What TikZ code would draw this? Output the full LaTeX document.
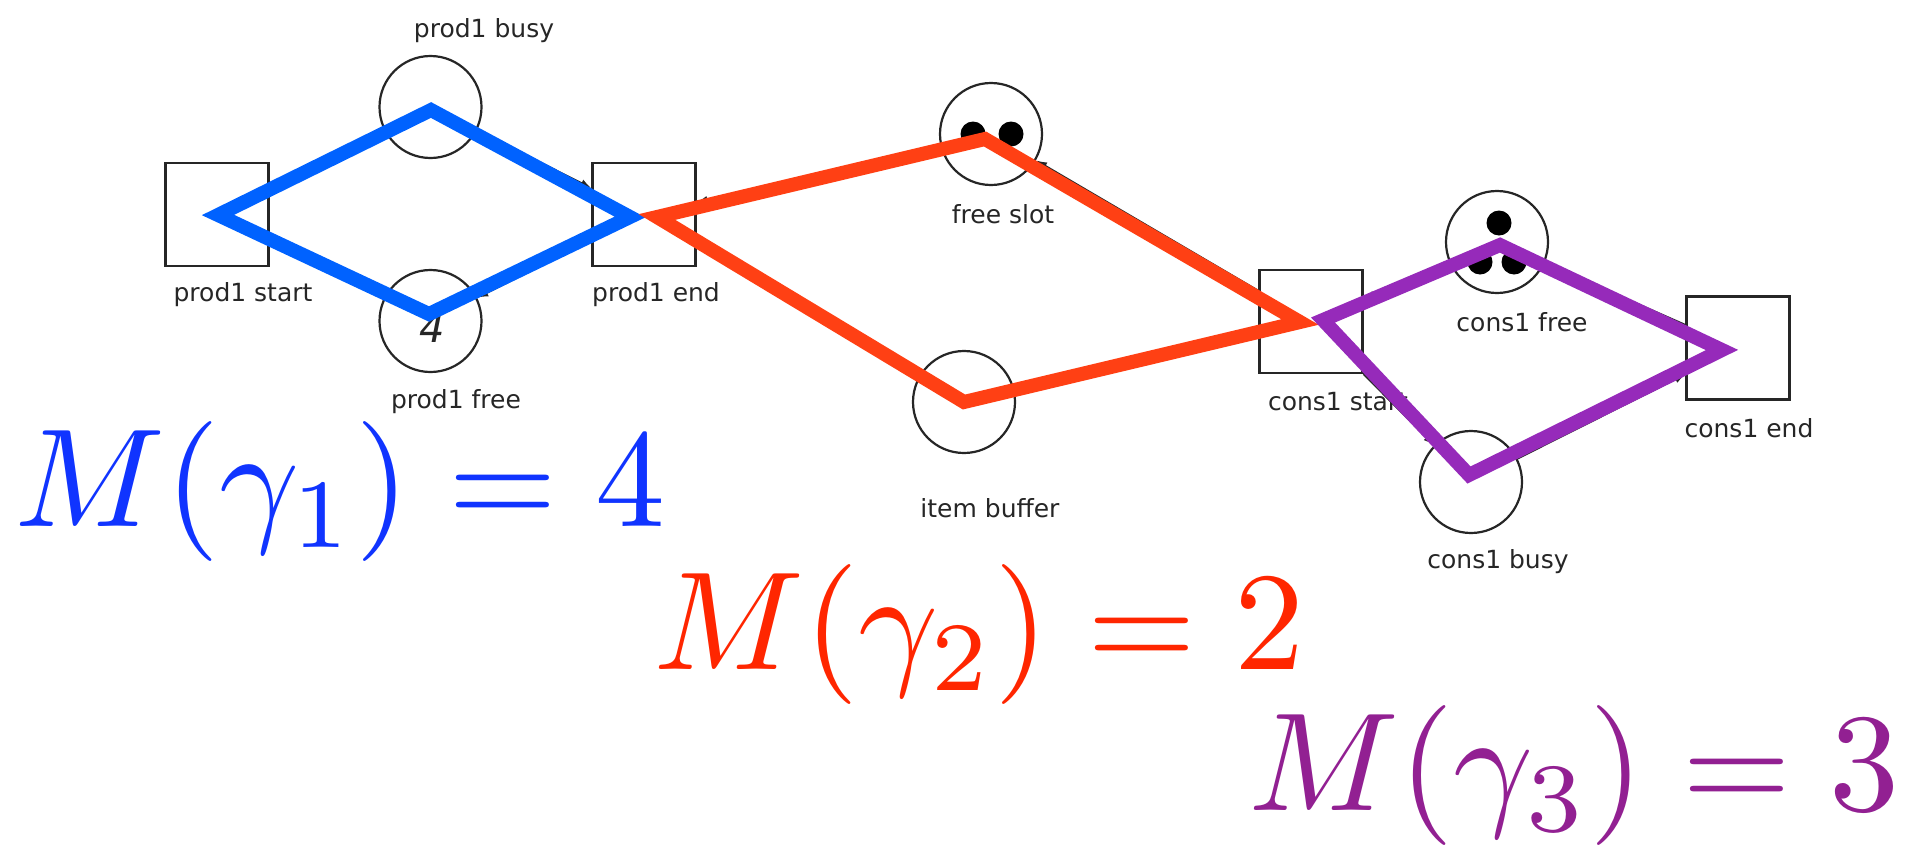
\documentclass[tikz,border=0pt]{standalone}
\usepackage{graphicx}
\usepackage{fontspec}
\newfontfamily\labfont{DejaVu Sans}
\usetikzlibrary{arrows.meta}
\definecolor{bluepoly}{RGB}{0,98,255}
\definecolor{redpoly}{RGB}{255,64,20}
\definecolor{purppoly}{RGB}{150,42,186}
\definecolor{bluetext}{RGB}{16,52,255}
\definecolor{redtext}{RGB}{255,38,0}
\definecolor{purptext}{RGB}{146,32,146}
\newcommand{\bigmath}[1]{\scalebox{14.0}{$#1$}}
\begin{document}
\begin{tikzpicture}[x=1pt,y=-1pt,
  place/.style={circle, draw=black!85, line width=2.2pt, minimum size=102pt, inner sep=0pt},
  trans/.style={rectangle, draw=black!85, line width=2.2pt, minimum size=103pt, inner sep=0pt},
  lab/.style={font=\labfont\fontsize{25}{30}\selectfont, text=black!85, anchor=base, inner sep=0pt},
  arc/.style={draw=black!85, line width=1.8pt, -{Latex[length=11pt,width=8pt]}},
  tok/.style={circle, fill=black, inner sep=0pt, minimum size=25pt},
  poly/.style={line width=14pt, line join=miter, miter limit=10},
  mathlab/.style={anchor=base west, inner sep=0pt}]
\fill[white] (0,0) rectangle (1908,846);
\useasboundingbox (0,0) rectangle (1908,846);

% transitions
\node[trans] (pstart) at (217,214.5) {};
\node[trans] (pend) at (644,214.5) {};
\node[trans] (cstart) at (1311,321.5) {};
\node[trans] (cend) at (1738,348) {};
% places
\node[place] (pbusy) at (430.5,107) {};
\node[place] (pfree) at (430.5,321) {};
\node[place] (fslot) at (991,134) {};
\node[place] (ibuf) at (964,402) {};
\node[place] (cfree) at (1497,242) {};
\node[place] (cbusy) at (1471,482) {};

% tokens
\node[tok] (t1) at (973,134) {};
\node[tok] (t2) at (1011,134) {};
\node[tok] (t3) at (1499,223) {};
\node[tok] (t4) at (1480,262) {};
\node[tok] (t5) at (1514,262) {};
\node[font=\labfont\itshape\fontsize{40}{40}\selectfont, text=black!85, inner sep=0pt] (n4) at (432,328) {4};

% labels
\node[lab] (lpbusy) at (484,37) {prod1 busy};
\node[lab] (lpstart) at (243,301) {prod1 start};
\node[lab] (lpend) at (656,301) {prod1 end};
\node[lab] (lpfree) at (456,408) {prod1 free};
\node[lab] (lfslot) at (1003,223) {free slot};
\node[lab] (libuf) at (990,517) {item buffer};
\node[lab] (lcstart) at (1338,410) {cons1 start};
\node[lab] (lcfree) at (1522,331) {cons1 free};
\node[lab] (lcend) at (1749,437) {cons1 end};
\node[lab] (lcbusy) at (1498,568) {cons1 busy};

% arcs
\draw[arc] (pstart) -- (pbusy);
\draw[arc] (pbusy) -- (pend);
\draw[arc] (pend) -- (pfree);
\draw[arc] (pfree) -- (pstart);
\draw[arc] (fslot) -- (pend);
\draw[arc] (pend) -- (ibuf);
\draw[arc] (ibuf) -- (cstart);
\draw[arc] (cstart) -- (fslot);
\draw[arc] (cfree) -- (cstart);
\draw[arc] (cstart) -- (cbusy);
\draw[arc] (cbusy) -- (cend);
\draw[arc] (cend) -- (cfree);

% invariant overlays
\draw[poly, bluepoly] (218,215) -- (431,110) -- (630,217) -- (429,314) -- cycle;
\draw[poly, redpoly] (657,217) -- (985,139) -- (1300,322) -- (964,402) -- cycle;
\draw[poly, purppoly] (1323,320) -- (1500,245) -- (1722,350) -- (1469,475) -- cycle;

% formulas
\node[mathlab, text=bluetext] (m1) at (14,526) {\bigmath{M(\gamma_1) = 4}};
\node[mathlab, text=redtext] (m2) at (653,669) {\bigmath{M(\gamma_2) = 2}};
\node[mathlab, text=purptext] (m3) at (1248,810) {\bigmath{M(\gamma_3) = 3}};
\end{tikzpicture}
\end{document}
